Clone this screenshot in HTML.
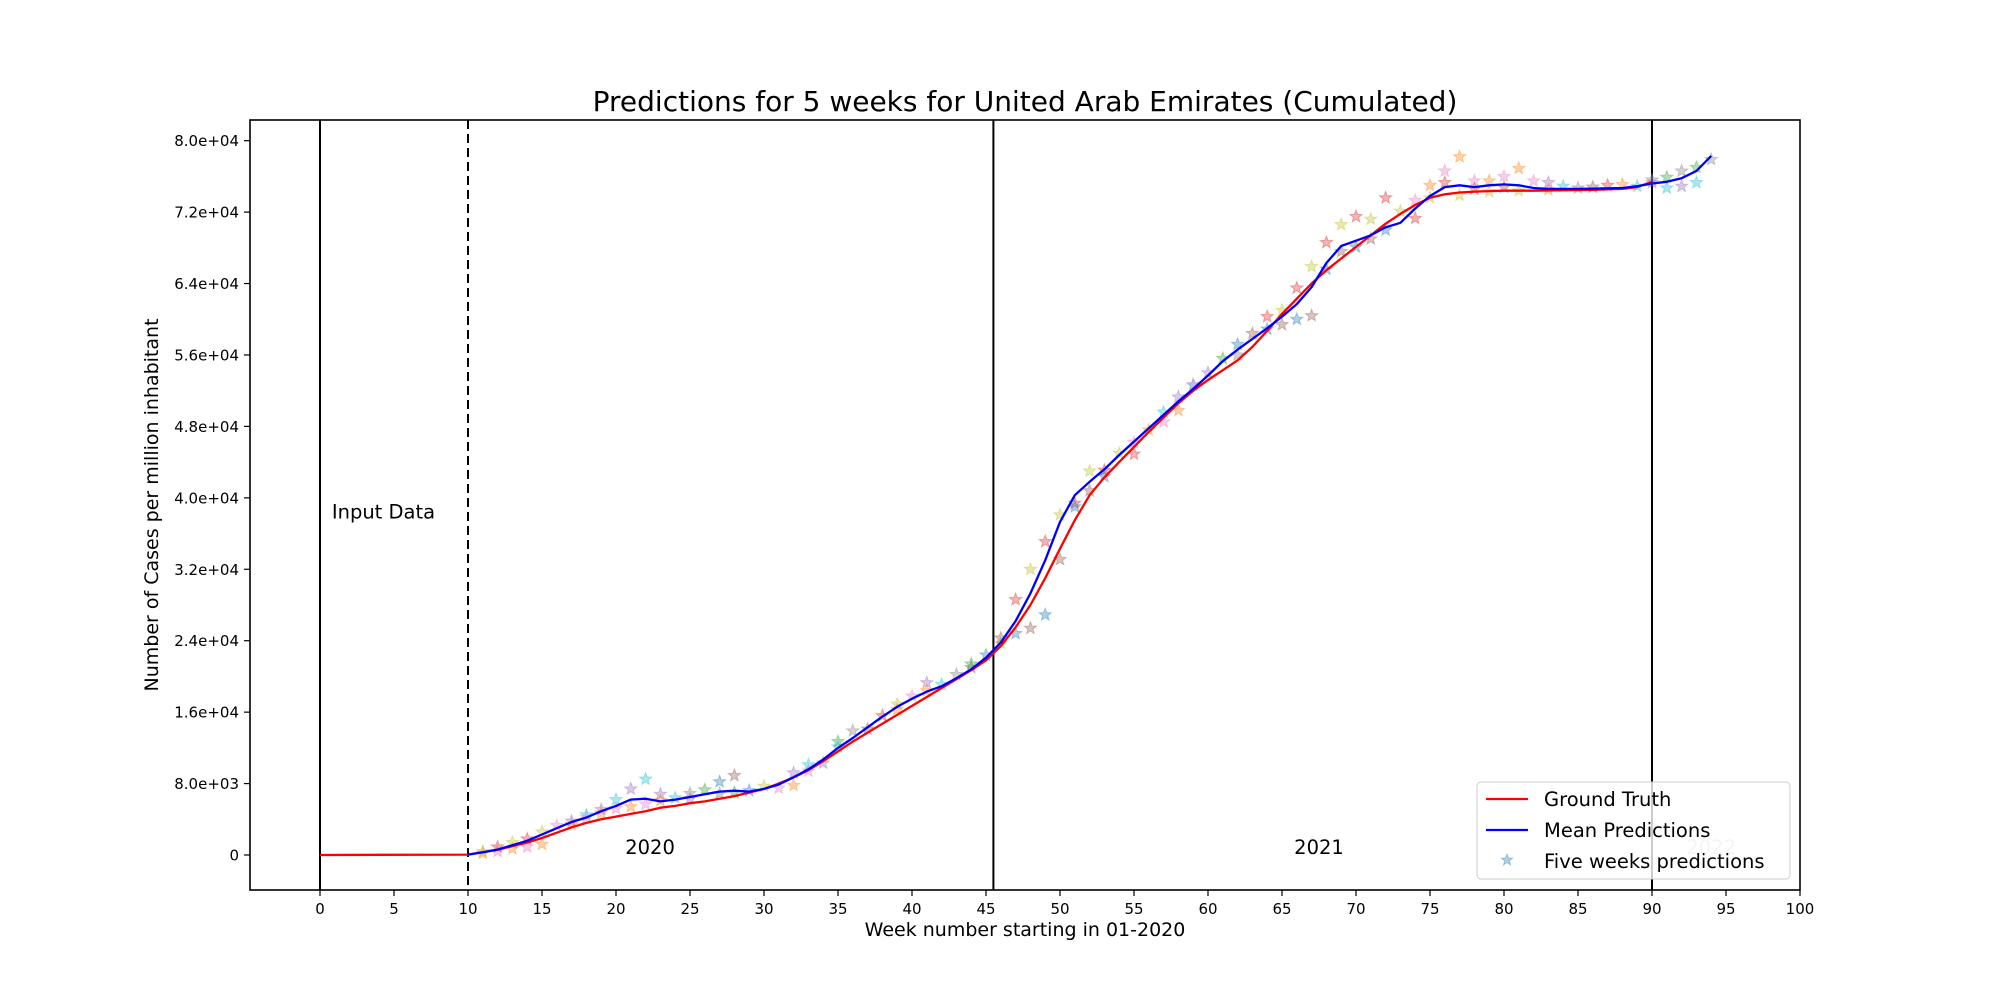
<!DOCTYPE html>
<html><head><meta charset="utf-8"><style>
html,body{margin:0;padding:0;background:#fff;}
svg{display:block;font-family:"DejaVu Sans","Liberation Sans",sans-serif;}
</style></head><body>
<svg id="chart" width="2000" height="1000" viewBox="0 0 2000 1000" xmlns="http://www.w3.org/2000/svg">
<rect width="2000" height="1000" fill="#fff"/>
<text x="1025" y="111" font-size="28" text-anchor="middle" fill="#000">Predictions for 5 weeks for United Arab Emirates (Cumulated)</text>
<g id="plot"></g>
<text transform="translate(158,505) rotate(-90)" font-size="19" text-anchor="middle" fill="#000">Number of Cases per million inhabitant</text>
<text x="1025" y="936" font-size="19" text-anchor="middle" fill="#000">Week number starting in 01-2020</text>
</svg>
<script>
const truthWeeks=[0,10,11,12,13,14,15,16,17,18,19,20,21,22,23,24,25,26,27,28,29,30,31,32,33,34,35,36,37,38,39,40,41,42,43,44,45,46,47,48,49,50,51,52,53,54,55,56,57,58,59,60,61,62,63,64,65,66,67,68,69,70,71,72,73,74,75,76,77,78,79,80,82,84,86,88,89,90];
const truthVals=[0,0.05,0.3,0.6,1.0,1.4,1.9,2.5,3.1,3.6,4.0,4.3,4.6,4.9,5.3,5.5,5.8,6.0,6.3,6.6,7.0,7.4,8.0,8.7,9.5,10.5,11.6,12.7,13.7,14.7,15.7,16.7,17.7,18.7,19.7,20.7,21.8,23.4,25.5,28.0,31.0,34.3,37.5,40.3,42.3,44.0,45.7,47.4,49.0,50.6,52.0,53.2,54.3,55.4,56.9,58.7,60.6,62.3,64.0,65.5,66.8,68.1,69.4,70.7,71.8,72.8,73.6,74.0,74.2,74.3,74.35,74.4,74.4,74.45,74.5,74.6,74.8,75.4];
const meanWeeks=[10,11,12,13,14,15,16,17,18,19,20,21,22,23,24,25,26,27,28,29,30,31,32,33,34,35,36,37,38,39,40,41,42,43,44,45,46,47,48,49,50,51,52,53,54,55,56,57,58,59,60,61,62,63,64,65,66,67,68,69,70,71,72,73,74,75,76,77,78,79,80,81,82,83,85,88,89,90,91,92,93,94];
const meanVals=[0.05,0.3,0.6,1.1,1.6,2.3,3.0,3.7,4.2,4.9,5.5,6.2,6.3,6.0,6.2,6.5,6.8,7.1,7.2,7.1,7.4,7.9,8.7,9.6,10.7,12.0,13.1,14.3,15.5,16.6,17.5,18.3,18.9,19.8,20.8,22.1,23.8,26.2,29.3,33.0,37.3,40.3,41.8,43.2,44.8,46.3,47.8,49.3,50.8,52.2,53.7,55.3,56.6,57.8,59.0,60.3,61.7,63.6,66.3,68.2,68.8,69.4,70.3,70.8,72.4,73.8,74.8,75.0,74.8,75.0,75.1,75.0,74.7,74.6,74.6,74.7,74.9,75.2,75.4,75.8,76.6,78.3];
const starWeeks=[11,11,12,12,13,13,14,14,15,15,16,17,17,18,18,19,19,20,20,21,21,22,22,23,23,24,25,25,26,27,27,28,28,29,30,31,32,32,33,33,34,35,35,36,37,38,39,39,40,41,41,42,43,44,44,45,46,46,47,47,48,48,49,49,50,50,51,51,52,52,53,53,54,55,55,56,57,57,58,58,59,59,60,61,62,62,63,64,64,65,65,66,66,67,67,68,68,69,69,70,70,71,71,72,72,73,74,74,75,75,76,76,77,77,78,78,79,79,80,80,81,81,82,83,83,84,85,86,87,88,89,90,90,91,91,92,92,93,93,94];
const starVals=[0.2,0.4,0.4,0.9,0.7,1.4,0.9,1.8,1.2,2.6,3.3,3.8,3.4,4.5,4.2,5.1,4.7,6.2,5.2,7.4,5.4,8.5,5.7,6.8,6.1,6.4,6.9,6.3,7.3,8.2,6.9,8.9,7.0,7.2,7.7,7.5,9.2,7.8,10.1,9.4,10.3,12.7,12.1,13.9,14.1,15.6,16.3,16.9,17.8,19.3,18.4,19.1,20.2,21.0,21.4,22.4,23.7,24.3,28.6,24.8,32.0,25.4,35.1,26.9,38.1,33.1,39.4,39.0,43.0,40.8,43.1,42.4,45.0,46.2,44.9,47.6,49.6,48.5,51.3,49.8,52.6,52.7,54.0,55.6,57.2,56.0,58.4,60.3,58.9,61.0,59.4,63.5,60.0,65.9,60.4,68.6,65.6,70.6,67.6,71.5,68.1,71.2,69.0,73.6,70.0,72.1,73.3,71.3,75.0,73.6,76.6,75.3,78.2,73.9,75.5,74.6,75.5,74.3,76.0,74.8,76.9,74.4,75.5,75.3,74.5,74.9,74.7,74.8,75.0,75.1,74.9,75.6,75.3,75.9,74.7,76.6,74.9,77.0,75.3,77.9];
const starColors=["#1f77b4","#ff7f0e","#2ca02c","#d62728","#9467bd","#8c564b","#e377c2","#7f7f7f","#bcbd22","#17becf"];
const xTicks=[0,5,10,15,20,25,30,35,40,45,50,55,60,65,70,75,80,85,90,95,100];
const yTicks=[0,8000,16000,24000,32000,40000,48000,56000,64000,72000,80000];
const yTickLabels=["0","8.0e+03","1.6e+04","2.4e+04","3.2e+04","4.0e+04","4.8e+04","5.6e+04","6.4e+04","7.2e+04","8.0e+04"];

const L=250,R=1800,T=120,B=890;
const xS=w=>320+14.8*w;
const yS=v=>855-v*89.29/10000;
const yK=k=>yS(k*1000);
const NS="http://www.w3.org/2000/svg";
const g=document.getElementById('plot');
function mk(tag,attrs,parent){const e=document.createElementNS(NS,tag);for(const k in attrs)e.setAttribute(k,attrs[k]);(parent||g).appendChild(e);return e;}

let e;
e=mk('line',{x1:xS(0),x2:xS(0),y1:T,y2:B,stroke:'#000','stroke-width':2});


e=mk('line',{x1:xS(10),x2:xS(10),y1:T,y2:B,stroke:'#000','stroke-width':2,'stroke-dasharray':'9,5'});


e=mk('line',{x1:xS(45.5),x2:xS(45.5),y1:T,y2:B,stroke:'#000','stroke-width':2});


e=mk('line',{x1:xS(90),x2:xS(90),y1:T,y2:B,stroke:'#000','stroke-width':2});



function starPath(cx,cy,r){let p='';for(let i=0;i<10;i++){const a=-Math.PI/2+i*Math.PI/5;const rr=i%2?r*0.42:r;p+=(i?'L':'M')+(cx+rr*Math.cos(a)).toFixed(1)+','+(cy+rr*Math.sin(a)).toFixed(1);}return p+'Z';}
for(let i=0;i<starWeeks.length;i++){
  const c=starColors[(i*7+starWeeks[i])%10];
  const s=mk('path',{d:starPath(xS(starWeeks[i]),yK(starVals[i]),6.5),fill:c,'fill-opacity':0.35,stroke:c,'stroke-opacity':0.35,'stroke-width':1});
  
  
}

let d=truthWeeks.map((w,i)=>(i?'L':'M')+xS(w).toFixed(1)+','+yK(truthVals[i]).toFixed(1)).join('');
e=mk('path',{d:d,fill:'none',stroke:'#ff0000','stroke-width':2.3,'stroke-linejoin':'round'});


d=meanWeeks.map((w,i)=>(i?'L':'M')+xS(w).toFixed(1)+','+yK(meanVals[i]).toFixed(1)).join('');
e=mk('path',{d:d,fill:'none',stroke:'#0000ff','stroke-width':2.3,'stroke-linejoin':'round'});



function txt(x,y,s,name,attrs){const t=mk('text',Object.assign({x:x,y:y,'font-size':19.5,fill:'#000'},attrs||{}));t.textContent=s;return t;}
txt(xS(0.8),yK(37.7),'Input Data','input-data-label');
txt(xS(22.3),yK(0.1),'2020','year-2020-label',{'text-anchor':'middle'});
txt(xS(67.5),yK(0.1),'2021','year-2021-label',{'text-anchor':'middle'});
txt(xS(94),yK(0.1),'2022','year-2022-label',{'text-anchor':'middle',fill:'#c8c8c8'});

e=mk('rect',{x:L,y:T,width:R-L,height:B-T,fill:'none',stroke:'#000','stroke-width':1.6});


xTicks.forEach(t=>{
  const x=xS(t);
  mk('line',{x1:x,x2:x,y1:B,y2:B+6,stroke:'#000','stroke-width':1.2});
  const tl=mk('text',{x:x,y:B+24,'font-size':15,'text-anchor':'middle',fill:'#000'});
  tl.textContent=t;
  
  
});
yTicks.forEach((t,i)=>{
  const y=yS(t);
  mk('line',{x1:L-6,x2:L,y1:y,y2:y,stroke:'#000','stroke-width':1.2});
  const tl=mk('text',{x:L-11,y:y+5.5,'font-size':15,'text-anchor':'end',fill:'#000'});
  tl.textContent=yTickLabels[i];
  
  
});

const lg=mk('g',{});


mk('rect',{x:1477,y:782,width:313,height:97,rx:4,fill:'#fff','fill-opacity':0.8,stroke:'#ccc','stroke-width':1},lg);
e=mk('line',{x1:1486,x2:1528,y1:799,y2:799,stroke:'#ff0000','stroke-width':2.3},lg);


e=mk('line',{x1:1486,x2:1528,y1:830,y2:830,stroke:'#0000ff','stroke-width':2.3},lg);


e=mk('path',{d:starPath(1507,860,6),fill:'#1f77b4','fill-opacity':0.35,stroke:'#1f77b4','stroke-opacity':0.35},lg);


[['Ground Truth',806],['Mean Predictions',837],['Five weeks predictions',868]].forEach(a=>{
  const t=mk('text',{x:1544,y:a[1],'font-size':19.5,fill:'#000'},lg);
  t.textContent=a[0];
  
  
});
</script>
</body></html>
